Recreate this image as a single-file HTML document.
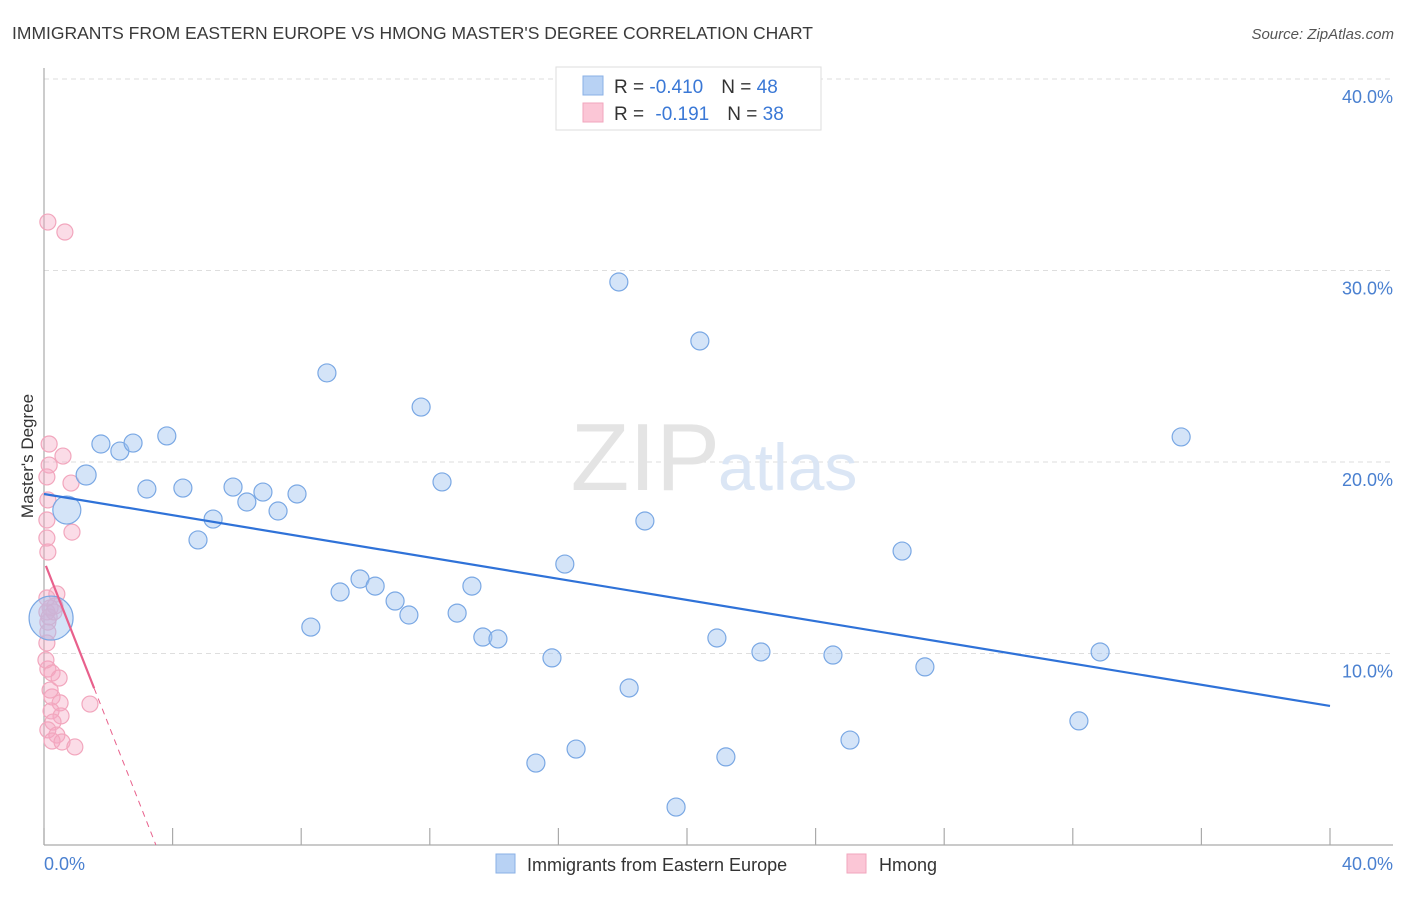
<!DOCTYPE html>
<html><head><meta charset="utf-8"><style>
body{margin:0;background:#fff;font-family:"Liberation Sans",sans-serif;}
svg text{font-family:"Liberation Sans",sans-serif;}
</style></head><body>
<svg id="chart" width="1406" height="892" viewBox="0 0 1406 892" xmlns="http://www.w3.org/2000/svg">
<text x="12" y="39" font-size="17.5" fill="#3a3a3a">IMMIGRANTS FROM EASTERN EUROPE VS HMONG MASTER'S DEGREE CORRELATION CHART</text>
<text x="1394" y="39" font-size="15" fill="#555" font-style="italic" text-anchor="end">Source: ZipAtlas.com</text>
<g id="grid"></g>
<text x="720" y="490" font-size="96" fill="#e4e4e4" text-anchor="end" font-family="Liberation Serif">ZIP</text>
<text x="718" y="490" font-size="66" fill="#dbe6f5">atlas</text>
<line x1="44" y1="68" x2="44" y2="845" stroke="#aaa" stroke-width="1.2"/>
<line x1="44" y1="845" x2="1393" y2="845" stroke="#aaa" stroke-width="1.2"/>
<g id="ticks"></g>
<g id="ylabels"></g>
<text transform="translate(33,456) rotate(-90)" font-size="17" fill="#333" text-anchor="middle">Master's Degree</text>
<text x="44" y="870" font-size="18" fill="#4a80d0">0.0%</text>
<text x="1393" y="870" font-size="18" fill="#4a80d0" text-anchor="end">40.0%</text>
<g id="pink"></g>
<g id="blue"></g>
<g id="trends"></g>
<g>
<rect x="556" y="67" width="265" height="63" fill="#fff" stroke="#ddd"/>
<rect x="583" y="76" width="20" height="19" fill="#b8d2f4" stroke="#8ab0e6"/>
<rect x="583" y="103" width="20" height="19" fill="#fbc6d6" stroke="#f2a6bd"/>
<text x="614" y="93" font-size="19" fill="#333">R = <tspan fill="#3a78d6">-0.410</tspan><tspan dx="18">N = </tspan><tspan fill="#3a78d6">48</tspan></text>
<text x="614" y="120" font-size="19" fill="#333">R = <tspan dx="6" fill="#3a78d6">-0.191</tspan><tspan dx="18">N = </tspan><tspan fill="#3a78d6">38</tspan></text>
</g>
<g>
<rect x="496" y="854" width="19" height="19" fill="#b8d2f4" stroke="#8ab0e6"/>
<text x="527" y="871" font-size="18" fill="#333">Immigrants from Eastern Europe</text>
<rect x="847" y="854" width="19" height="19" fill="#fbc6d6" stroke="#f2a6bd"/>
<text x="879" y="871" font-size="18" fill="#333">Hmong</text>
</g>
</svg>
<script>
const blueX=[0.22,0.71,1.31,1.77,2.36,2.77,3.20,3.82,4.32,4.79,5.26,5.88,6.31,6.81,7.28,7.87,8.30,8.80,9.21,9.83,10.30,10.92,11.35,11.73,12.38,12.85,13.31,13.65,14.12,15.30,15.80,16.20,16.55,17.88,18.20,18.69,19.66,20.40,20.93,21.21,22.30,24.54,25.07,26.69,27.40,32.19,32.85,35.37];
const blueY=[11.85,17.49,19.32,20.94,20.57,20.99,18.59,21.36,18.64,15.93,17.02,18.69,17.91,18.43,17.44,18.33,11.38,24.65,13.21,13.89,13.52,12.74,12.01,22.87,18.96,12.11,13.52,10.86,10.76,4.28,9.77,14.67,5.01,29.40,8.20,16.92,1.98,26.32,10.81,4.60,10.08,9.92,5.48,15.35,9.30,6.48,10.08,21.31];
const blueSize=[22,14,10,9,9,9,9,9,9,9,9,9,9,9,9,9,9,9,9,9,9,9,9,9,9,9,9,9,9,9,9,9,9,9,9,9,9,9,9,9,9,9,9,9,9,9,9,9];
const pinkX=[0.12,0.65,0.16,0.59,0.16,0.84,0.09,0.12,0.09,0.87,0.09,0.12,0.40,0.19,0.09,0.12,0.12,0.09,0.12,0.25,0.47,0.25,0.50,1.43,0.22,0.53,0.28,0.12,0.40,0.25,0.56,0.96,0.09,0.16,0.34,0.06,0.19,0.31];
const pinkY=[32.53,32.01,20.94,20.31,19.84,18.90,19.22,18.02,16.97,16.34,16.03,15.30,13.11,12.38,12.17,11.64,11.12,10.55,9.19,8.98,8.72,7.73,7.42,7.36,7.00,6.74,6.42,6.01,5.74,5.43,5.38,5.12,12.90,11.91,12.48,9.66,8.09,12.17];
const yTicks=[10,20,30,40];
const yTickLabels=["10.0%","20.0%","30.0%","40.0%"];
const xTicks=[0,4,8,12,16,20,24,28,32,36,40];
const blueTrend=[18.33,7.26];
const pinkTrend=[14.83,-4.26];

const NS="http://www.w3.org/2000/svg";
const X=v=>44+v/40*1286;
const Y=v=>845-v*19.15;
function mk(tag,attrs,parent){const e=document.createElementNS(NS,tag);for(const k in attrs)e.setAttribute(k,attrs[k]);parent.appendChild(e);return e;}
const grid=document.getElementById('grid'),yl=document.getElementById('ylabels'),tk=document.getElementById('ticks');
yTicks.forEach((t,i)=>{
  const l=mk('line',{x1:44,x2:1393,y1:Y(t),y2:Y(t),stroke:'#dedede','stroke-dasharray':'5,4'},grid);
  
  
  const tx=mk('text',{x:1393,y:Y(t)+24,'font-size':18,fill:'#4a80d0','text-anchor':'end'},yl);
  tx.textContent=yTickLabels[i];
  
  
});
xTicks.forEach(t=>{
  const l=mk('line',{x1:X(t),x2:X(t),y1:828,y2:845,stroke:'#aaa','stroke-width':1.2},tk);
  
  
});
const pg=document.getElementById('pink');
pinkX.forEach((x,i)=>{
  const c=mk('circle',{cx:X(x),cy:Y(pinkY[i]),r:8,fill:'rgba(246,168,196,0.4)',stroke:'#f2a6bd','stroke-width':1.2},pg);
  
  
});
const bg=document.getElementById('blue');
blueX.forEach((x,i)=>{
  const c=mk('circle',{cx:X(x),cy:Y(blueY[i]),r:blueSize[i],fill:'rgba(160,196,240,0.45)',stroke:'#7aa8e4','stroke-width':1.2},bg);
  
  
});
const tr=document.getElementById('trends');
const b=mk('line',{x1:X(0),y1:Y(blueTrend[0]),x2:X(40),y2:Y(blueTrend[1]),stroke:'#2f72d8','stroke-width':2.2},tr);


const pf=x=>pinkTrend[0]+pinkTrend[1]*x;
const p1=mk('line',{x1:X(0.06),y1:Y(pf(0.06)),x2:X(1.56),y2:Y(pf(1.56)),stroke:'#e8608c','stroke-width':2.2},tr);


const p2=mk('line',{x1:X(1.56),y1:Y(pf(1.56)),x2:X(3.48),y2:Y(pf(3.48)),stroke:'#e8608c','stroke-width':1,'stroke-dasharray':'6,5'},tr);


</script>
</body></html>
